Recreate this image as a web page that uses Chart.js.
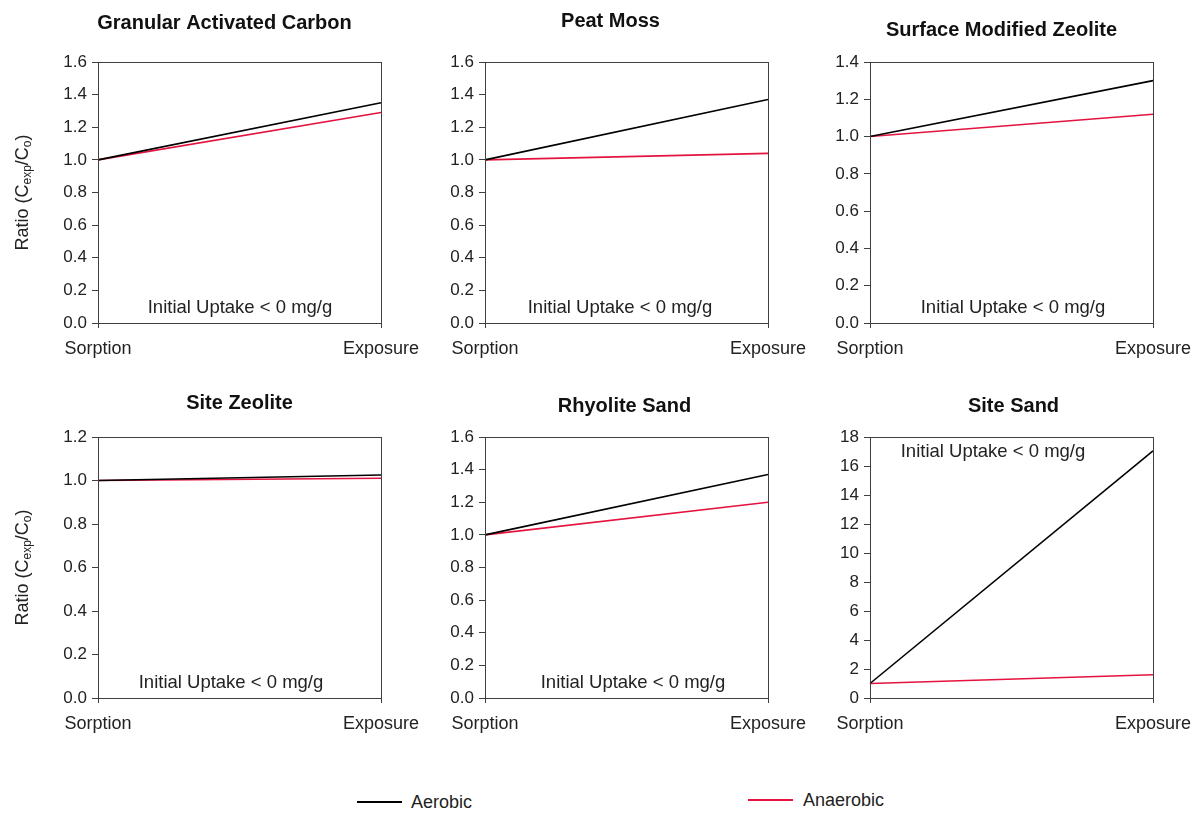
<!DOCTYPE html>
<html>
<head>
<meta charset="utf-8">
<script src="https://cdn.jsdelivr.net/npm/chart.js@4.4.1/dist/chart.umd.min.js"></script>
<style>
  body { margin: 0; background: #fff; width: 1201px; height: 813px; position: relative; overflow: hidden; font-family: "Liberation Sans", Arial, sans-serif; }
  canvas { position: absolute; }
  .leg { position: absolute; font-size: 18px; color: #222; line-height: 20px; }
  .legline { position: absolute; height: 2px; width: 45px; }
</style>
</head>
<body>
<canvas id="c0"></canvas>
<canvas id="c1"></canvas>
<canvas id="c2"></canvas>
<canvas id="c3"></canvas>
<canvas id="c4"></canvas>
<canvas id="c5"></canvas>

<div class="legline" style="left:357px;top:801px;background:#000;"></div>
<div class="leg" style="left:411px;top:792px;">Aerobic</div>
<div class="legline" style="left:748px;top:799px;background:#e4133f;"></div>
<div class="leg" style="left:803px;top:790px;">Anaerobic</div>

<script>
// data
const stages = ['Sorption', 'Exposure'];
const titles = ['Granular Activated Carbon', 'Peat Moss', 'Surface Modified Zeolite',
                'Site Zeolite', 'Rhyolite Sand', 'Site Sand'];
const aerobic   = [[1, 1.35], [1, 1.37], [1, 1.30], [1, 1.025], [1, 1.37], [1, 17.05]];
const anaerobic = [[1, 1.29], [1, 1.04], [1, 1.12], [1, 1.01], [1, 1.20], [1, 1.6]];
const yMax  = [1.6, 1.6, 1.4, 1.2, 1.6, 18];
const yStep = [0.2, 0.2, 0.2, 0.2, 0.2, 2];
const note = 'Initial Uptake < 0 mg/g';

// layout of each panel (plot area left/top), title and note offsets
const plotLeft = [98, 485, 870];
const plotTop = [62, 437];
const plotW = 283, plotH = 261;
const padR = 60;
const titleX = [-15, -16, -10, 0, -2, 2];   // offset from plot centre
const titleY = [39, 41, 32, 34, 31, 31];    // above plot top
const noteX = [142, 135, 143, 133, 148, 123];
const noteAtTop = [false, false, false, false, false, true];

const AXIS = '#404040';
const FONT = '"Liberation Sans", Arial, sans-serif';

const panelPlugin = {
  id: 'panel',
  afterDraw(chart, args, opts) {
    const ctx = chart.ctx;
    const a = chart.chartArea;
    ctx.save();
    // frame
    ctx.strokeStyle = AXIS;
    ctx.lineWidth = 1;
    ctx.strokeRect(Math.round(a.left) + 0.5, Math.round(a.top) + 0.5,
                   Math.round(a.right - a.left), Math.round(a.bottom - a.top));
    // title
    ctx.fillStyle = '#111';
    ctx.font = 'bold 20px ' + FONT;
    ctx.textAlign = 'center';
    ctx.textBaseline = 'middle';
    ctx.fillText(opts.title, (a.left + a.right) / 2 + opts.tx, a.top - opts.ty);
    // note
    ctx.font = '18.5px ' + FONT;
    ctx.textAlign = 'center';
    const ny = opts.noteTop ? a.top + 15 : a.bottom - 15;
    ctx.fillStyle = '#222';
    ctx.fillText(note, a.left + opts.nx, ny);
    // y title with subscripts
    if (opts.yTitle) {
      ctx.translate(a.left - 75, (a.top + a.bottom) / 2);
      ctx.rotate(-Math.PI / 2);
      const parts = [['Ratio (C', 18, 0], ['exp', 12, 5], ['/C', 18, 0], ['o', 12, 5], [')', 18, 0]];
      let total = 0;
      parts.forEach(p => { ctx.font = p[1] + 'px ' + FONT; total += ctx.measureText(p[0]).width; });
      let x = -total / 2;
      ctx.textAlign = 'left';
      parts.forEach(p => {
        ctx.font = p[1] + 'px ' + FONT;
        ctx.fillText(p[0], x, p[2]);
        x += ctx.measureText(p[0]).width;
      });
    }
    ctx.restore();
  }
};

function makePanel(i) {
  const col = i % 3, row = Math.floor(i / 3);
  const cv = document.getElementById('c' + i);
  const W = 98 + plotW + padR, H = 62 + plotH + 45;
  cv.style.left = (plotLeft[col] - 98) + 'px';
  cv.style.top = (plotTop[row] - 62) + 'px';
  cv.width = W; cv.height = H;
  cv.style.width = W + 'px'; cv.style.height = H + 'px';

  new Chart(cv.getContext('2d'), {
    type: 'line',
    data: {
      labels: stages,
      datasets: [
        { label: 'Aerobic', data: aerobic[i], borderColor: '#000', borderWidth: 1.6, pointRadius: 0, tension: 0 },
        { label: 'Anaerobic', data: anaerobic[i], borderColor: '#e4133f', borderWidth: 1.6, pointRadius: 0, tension: 0 }
      ]
    },
    options: {
      responsive: false,
      animation: false,
      layout: { padding: { left: 48, top: 62, right: padR, bottom: 10 } },
      plugins: {
        legend: { display: false },
        tooltip: { enabled: false },
        panel: { title: titles[i], tx: titleX[i], ty: titleY[i], nx: noteX[i], noteTop: noteAtTop[i], yTitle: col === 0 }
      },
      scales: {
        x: {
          offset: false,
          grid: { drawOnChartArea: false, drawTicks: true, tickLength: 5, color: AXIS },
          border: { color: AXIS },
          ticks: { color: '#222', font: { family: FONT, size: 18 }, padding: 10, maxRotation: 0, autoSkip: false },
          afterFit: s => { s.height = 35; }
        },
        y: {
          min: 0, max: yMax[i],
          grid: { drawOnChartArea: false, drawTicks: true, tickLength: 6, color: AXIS },
          border: { color: AXIS },
          ticks: {
            stepSize: yStep[i], color: '#222', font: { family: FONT, size: 17 }, padding: 5,
            callback: v => yStep[i] < 1 ? v.toFixed(1) : String(v)
          },
          afterFit: s => { s.width = 50; }
        }
      }
    },
    plugins: [panelPlugin]
  });
}

for (let i = 0; i < 6; i++) makePanel(i);
</script>
</body>
</html>
